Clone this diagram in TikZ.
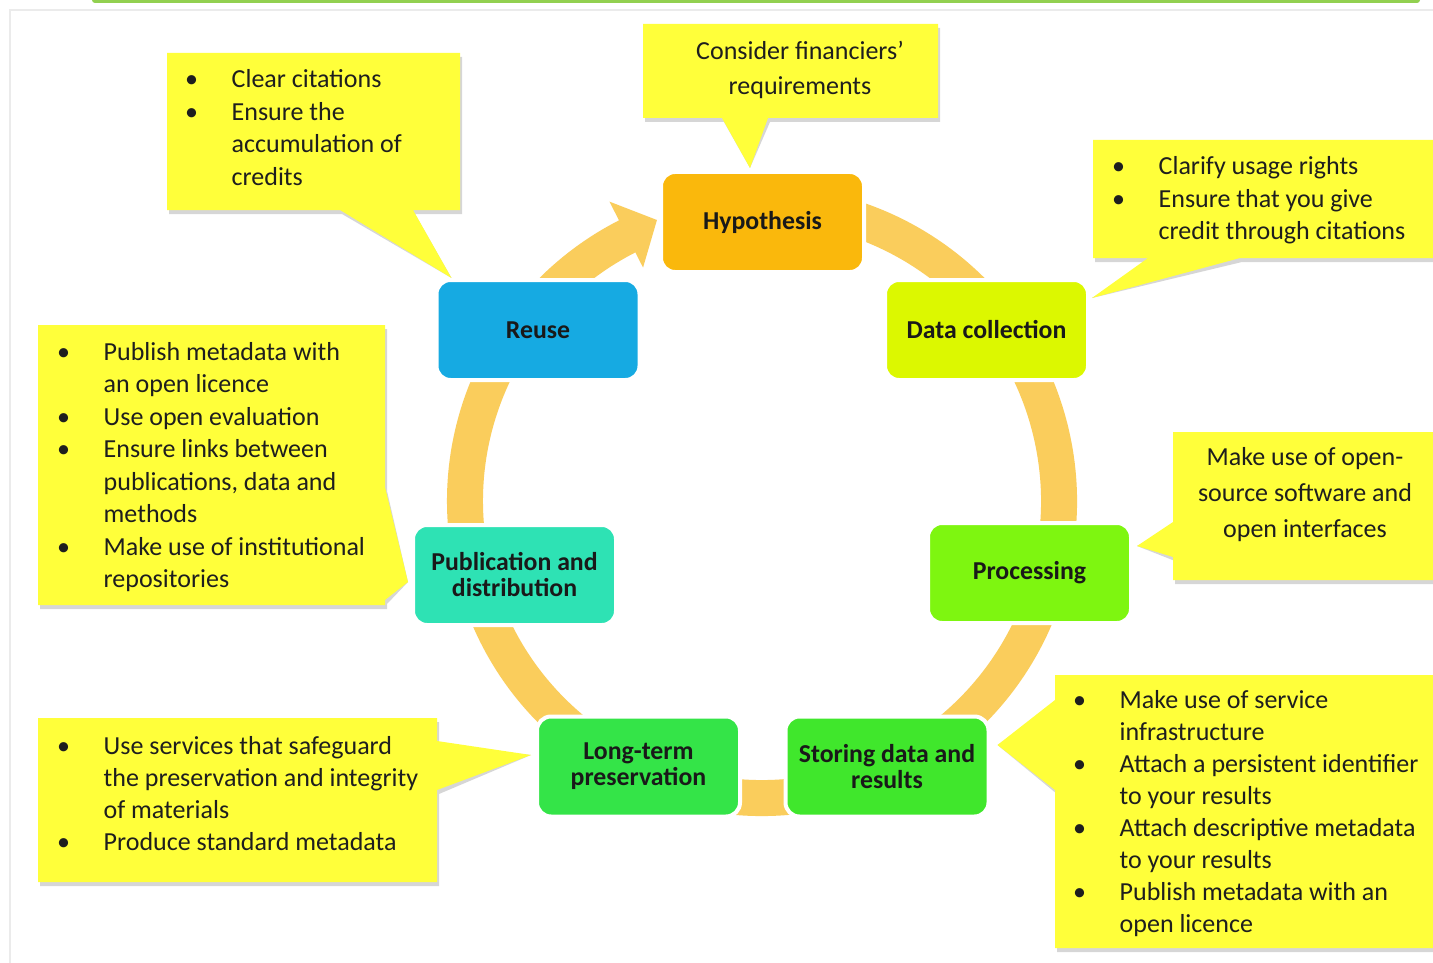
\documentclass[tikz,border=0pt]{standalone}
\usepackage{fontspec}
\setmainfont{Carlito}
\usetikzlibrary{calc}
\pgfdeclarelayer{background}
\pgfsetlayers{background,main}

\definecolor{bandc}{RGB}{250,205,92}
\definecolor{notec}{RGB}{255,255,58}
\definecolor{topgreen}{RGB}{146,208,80}
\definecolor{hypc}{RGB}{250,184,12}
\definecolor{reusec}{RGB}{22,170,226}
\definecolor{dcc}{RGB}{220,248,0}
\definecolor{pubc}{RGB}{46,226,180}
\definecolor{procc}{RGB}{126,246,16}
\definecolor{longc}{RGB}{52,228,72}
\definecolor{storec}{RGB}{64,231,44}
\definecolor{inkc}{RGB}{30,30,30}

% bullet and continuation indents for the note lists
\newcommand{\bu}{\makebox[46.5pt][l]{\textbullet}}
\newcommand{\nb}{\hspace*{46.5pt}}
% a note: soft shadow under a yellow shape
\newcommand{\bubble}[1]{\fill[noteshadow] #1; \fill[notefill] #1;}

\begin{document}
\begin{tikzpicture}[x=1pt,y=-1pt,
  stage/.style={rounded corners=14pt, draw=white, line width=4pt,
    minimum width=203pt, minimum height=100pt, inner sep=2pt, align=center,
    font=\bfseries\fontsize{25.8pt}{26pt}\selectfont, text=black!90},
  notetext/.style={inner sep=0pt, text=inkc,
    font=\fontsize{26pt}{32.5pt}\selectfont},
  notefill/.style={fill=notec},
  noteshadow/.style={fill=black!35, opacity=0.45, shift={(2,4)}},
  band/.style={draw=bandc, line width=36pt}]

\useasboundingbox (0,0) rectangle (1433,963);

% ---- cycle stages ----
\node[stage, fill=hypc]   (hyp)   at (762.5,222) {Hypothesis};
\node[stage, fill=reusec] (reuse) at (538,330)   {Reuse};
\node[stage, fill=dcc]    (dc)    at (986.5,330) {Data collection};
\node[stage, fill=pubc]   (pub)   at (514.5,575) {Publication and\\distribution};
\node[stage, fill=procc]  (proc)  at (1029.5,573) {Processing};
\node[stage, fill=longc]  (long)  at (638.5,766.5) {Long-term\\preservation};
\node[stage, fill=storec] (store) at (887,766.5) {Storing data and\\results};

% pointer tips of the notes
\coordinate (tipFin) at ($(hyp.north)+(-12.5,-2)$);
\coordinate (tipR)   at ($(reuse.north west)+(17,0)$);
\coordinate (tipD)   at ($(dc.north east)+(2,20)$);
\coordinate (tipP)   at ($(proc.east)+(4,-27)$);
\coordinate (tipS)   at ($(store.east)+(7,-21.5)$);
\coordinate (tipPub) at ($(pub.west)+(-3,7)$);
\coordinate (tipL)   at ($(long.west)+(-4,-11.5)$);

\begin{pgfonlayer}{background}
  \fill[white] (0,0) rectangle (1433,963);
  % page frame and top bar
  \draw[black!8, line width=1.5pt] (1440,10) -- (10,10) -- (10,970);
  \fill[topgreen, rounded corners=3pt] (92,-8) rectangle (1420,3);

  % circular band with the arrow head into Hypothesis
  \draw[band] ([shift={(762,501)}]258:297) arc[start angle=258, end angle=603.5, radius=297];
  \fill[bandc] ([shift={(762,501)}]243:262) -- ([shift={(762,501)}]243:336)
     -- ([shift={(762,501)}]249.5:300) -- cycle;

  % notes
  \bubble{(643,24) -- (938,24) -- (938,118) -- (768,118) -- (tipFin) -- (722,118) -- (643,118) -- cycle}
  \bubble{(167,53) -- (460,53) -- (460,210) -- (413,210) -- (tipR) -- (340,210) -- (167,210) -- cycle}
  \bubble{(1093,140) -- (1445,140) -- (1445,258) -- (1240,258) -- (tipD) -- (1148,258) -- (1093,258) -- cycle}
  \bubble{(1173,432) -- (1445,432) -- (1445,580) -- (1173,580) -- (1173,557) -- (tipP) -- (1173,522) -- cycle}
  \bubble{(1055,675) -- (1445,675) -- (1445,948) -- (1055,948) -- (1055,790) -- (tipS) -- (1055,700) -- cycle}
  \bubble{(38,325) -- (385,325) -- (385,487) -- (tipPub) -- (385,600) -- (385,605) -- (38,605) -- cycle}
  \bubble{(38,718) -- (437,718) -- (437,741) -- (tipL) -- (437,790) -- (437,882) -- (38,882) -- cycle}
\end{pgfonlayer}

% ---- note texts ----
\node[notetext, anchor=base, font=\fontsize{26pt}{35pt}\selectfont] (tFin) at (800,60)
  {\begin{tabular}[t]{@{}c@{}}Consider financiers'\\requirements\end{tabular}};
\node[notetext, anchor=base west] (tReuse) at (185,88)
  {\begin{tabular}[t]{@{}l@{}}\bu Clear citations\\\bu Ensure the\\\nb accumulation of\\\nb credits\end{tabular}};
\node[notetext, anchor=base west] (tDc) at (1112,175)
  {\begin{tabular}[t]{@{}l@{}}\bu Clarify usage rights\\\bu Ensure that you give\\\nb credit through citations\end{tabular}};
\node[notetext, anchor=base, font=\fontsize{26pt}{36pt}\selectfont] (tProc) at (1305,465)
  {\begin{tabular}[t]{@{}c@{}}Make use of open-\\source software and\\open interfaces\end{tabular}};
\node[notetext, anchor=base west, font=\fontsize{26pt}{32pt}\selectfont] (tStore) at (1073,708)
  {\begin{tabular}[t]{@{}l@{}}\bu Make use of service\\\nb infrastructure\\\bu Attach a persistent identifier\\\nb to your results\\\bu Attach descriptive metadata\\\nb to your results\\\bu Publish metadata with an\\\nb open licence\end{tabular}};
\node[notetext, anchor=base west] (tPub) at (57,360)
  {\begin{tabular}[t]{@{}l@{}}\bu Publish metadata with\\\nb an open licence\\\bu Use open evaluation\\\bu Ensure links between\\\nb publications, data and\\\nb methods\\\bu Make use of institutional\\\nb repositories\end{tabular}};
\node[notetext, anchor=base west, font=\fontsize{26pt}{32pt}\selectfont] (tLong) at (57,754)
  {\begin{tabular}[t]{@{}l@{}}\bu Use services that safeguard\\\nb the preservation and integrity\\\nb of materials\\\bu Produce standard metadata\end{tabular}};
\end{tikzpicture}
\end{document}
